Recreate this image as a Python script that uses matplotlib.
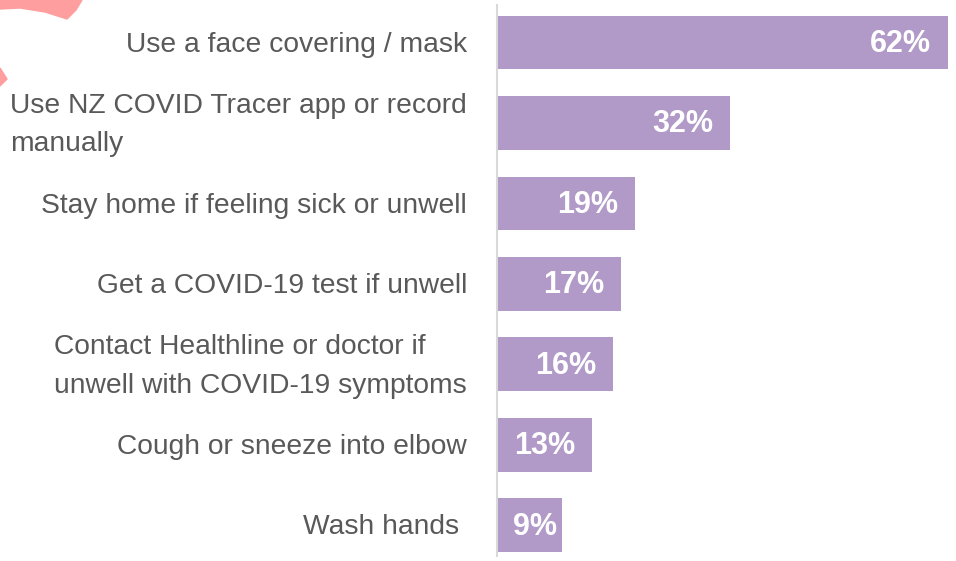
import matplotlib.pyplot as plt
from matplotlib.patches import Polygon

categories = [
    "Use a face covering / mask",
    "Use NZ COVID Tracer app or record\nmanually",
    "Stay home if feeling sick or unwell",
    "Get a COVID-19 test if unwell",
    "Contact Healthline or doctor if\nunwell with COVID-19 symptoms",
    "Cough or sneeze into elbow",
    "Wash hands ",
]
values = [62, 32, 19, 17, 16, 13, 9]
value_labels = ["62%", "32%", "19%", "17%", "16%", "13%", "9%"]

bar_color = "#B19AC8"
text_color = "#595959"

fig = plt.figure(figsize=(9.56, 5.61), dpi=100)
ax = fig.add_axes([497 / 956, 5 / 561, 459 / 956, 551 / 561])

pos = list(range(len(values)))
ax.barh(pos, values, height=0.67, color=bar_color)
ax.set_xlim(0, 63.1)
ax.set_ylim(6.38, -0.466)

for y, v, lab in zip(pos, values, value_labels):
    off = -12 if v > 10 else -3.6
    ax.annotate(lab, (v, y), xytext=(off, -1), textcoords="offset points",
                ha="right", va="center", color="white", fontsize=22,
                fontweight="bold", family="Liberation Sans")

for y, cat in zip(pos, categories):
    ax.annotate(cat, (0, y), xytext=(-30 * 0.72, -1.5), textcoords="offset points",
                ha="right", va="center", multialignment="left",
                color=text_color, fontsize=20.3, family="Liberation Sans",
                linespacing=1.62, annotation_clip=False)

for s in ["top", "right", "bottom"]:
    ax.spines[s].set_visible(False)
ax.spines["left"].set_color("#D9D9D9")
ax.spines["left"].set_linewidth(1.5)
ax.set_xticks([])
ax.set_yticks([])

# decorative fragments at the top-left corner
pink = "#FF9E9E"
fig.patches.append(Polygon(
    [(0 / 956, 1 - 0 / 561), (82 / 956, 1 - 0 / 561), (76 / 956, 1 - 10 / 561),
     (67 / 956, 1 - 19 / 561), (45 / 956, 1 - 12 / 561), (20 / 956, 1 - 8 / 561),
     (0 / 956, 1 - 9 / 561)],
    closed=True, transform=fig.transFigure, color=pink, zorder=0))
fig.patches.append(Polygon(
    [(0 / 956, 1 - 68 / 561), (7 / 956, 1 - 79 / 561), (0 / 956, 1 - 86 / 561)],
    closed=True, transform=fig.transFigure, color=pink, zorder=0))

fig.savefig("out.png", dpi=100)
